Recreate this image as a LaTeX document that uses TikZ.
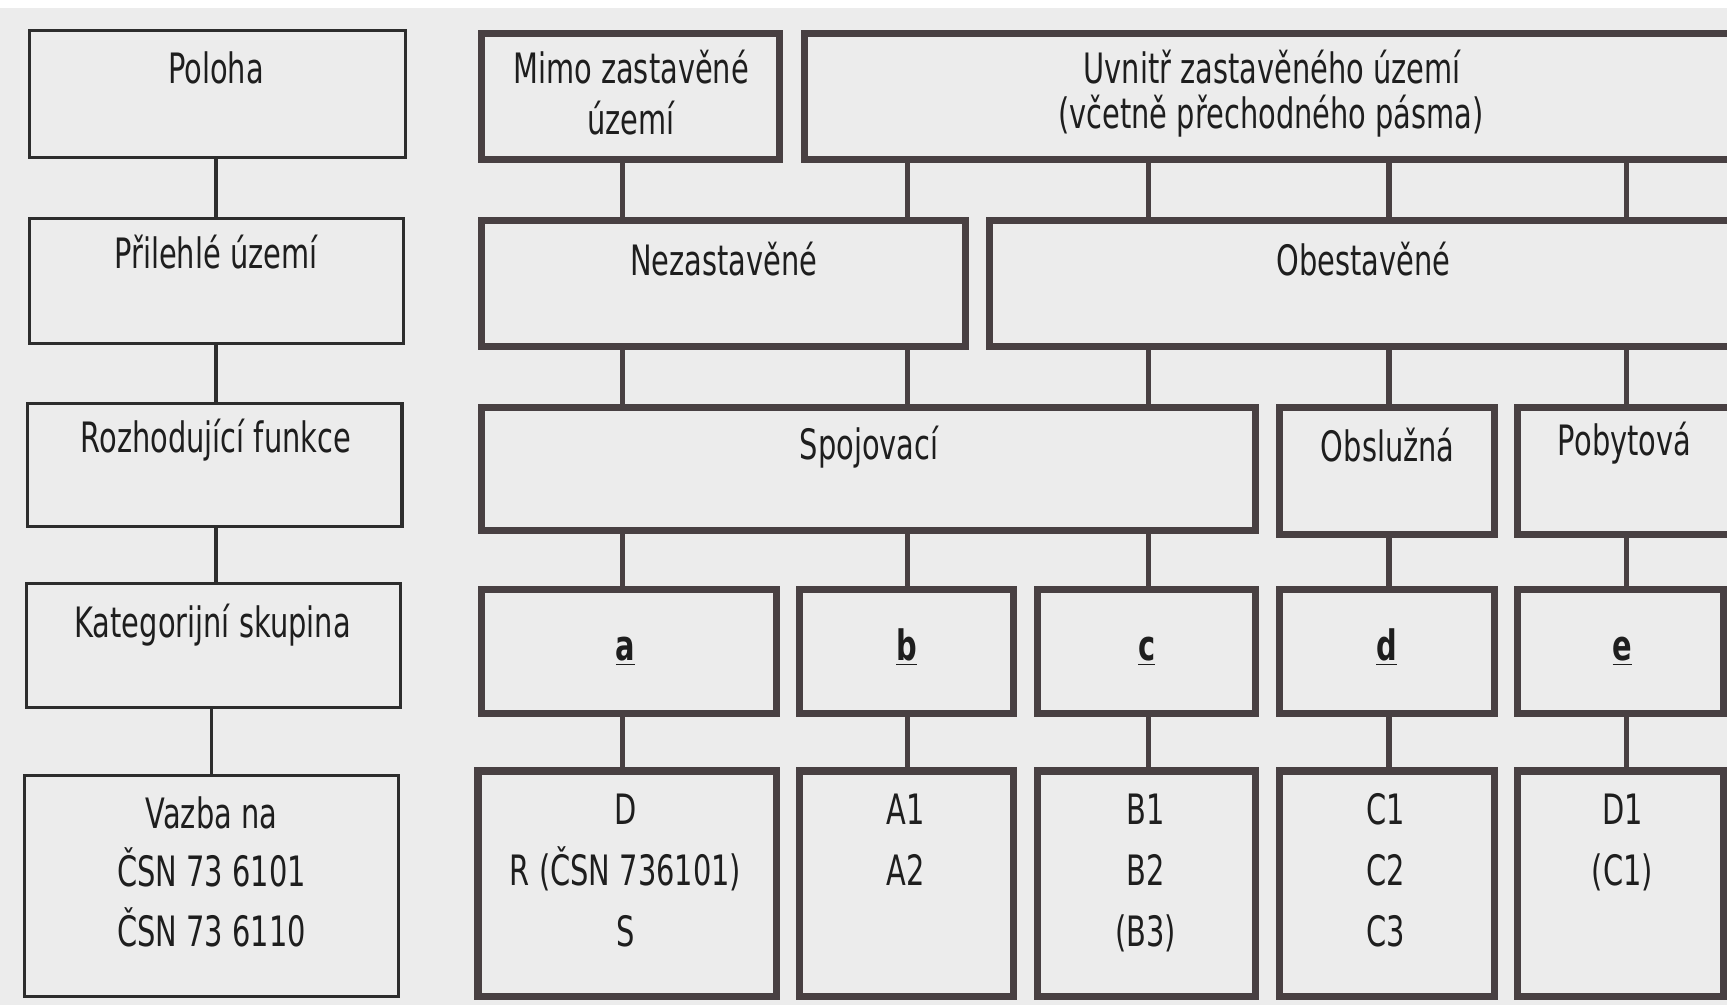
\documentclass[tikz,border=0pt]{standalone}
\usepackage{fontspec}
\setmainfont[FakeStretch=0.69]{DejaVu Sans}
\usetikzlibrary{calc}
\definecolor{bg}{RGB}{236,236,236}
\definecolor{thickc}{RGB}{72,64,66}
\definecolor{thinc}{RGB}{45,45,45}
\definecolor{ink}{RGB}{30,30,30}
\newcommand\bx[6]{\node[#2, minimum width={(#5-#3)*0.5pt}, minimum height={(#6-#4)*0.5pt}] (#1) at ({(#3+#5)/2},{(#4+#6)/2}) {};}
\begin{document}
\begin{tikzpicture}[x=0.5pt,y=-0.5pt,
  thinbox/.style={draw=thinc, line width=1.4pt, rectangle, inner sep=0pt, outer sep=0pt},
  thickbox/.style={draw=thickc, line width=3.2pt, rectangle, inner sep=0pt, outer sep=0pt},
  lbl/.style={font=\fontsize{19}{23}\selectfont, text=ink, inner sep=0pt, anchor=base},
  thinlink/.style={draw=thinc, line width=1.6pt},
  thicklink/.style={draw=thickc, line width=2.4pt},
]
\useasboundingbox (0,0) rectangle (1568,912);
\fill[white] (0,0) rectangle (1568,912);
\fill[bg] (0,7) rectangle (1568,912);
\clip (0,0) rectangle (1568,912);

% column coordinates
\coordinate (cL) at (196,0);
\coordinate (cA) at (565,0);
\coordinate (cB) at (824,0);
\coordinate (cC) at (1043,0);
\coordinate (cD) at (1261,0);
\coordinate (cE) at (1477,0);

% left column
\bx{pol}{thinbox}{27}{28}{368}{143}
\bx{pri}{thinbox}{27}{198}{366}{312}
\bx{roz}{thinbox}{25}{366}{365}{478}
\bx{kat}{thinbox}{24}{530}{364}{642}
\bx{vaz}{thinbox}{22}{704}{362}{905}

% right: row 1
\bx{mimo}{thickbox}{437}{30}{708}{145}
\bx{uvn}{thickbox}{730}{30}{1600}{145}
% row 2
\bx{nez}{thickbox}{437}{200}{877}{315}
\bx{obe}{thickbox}{898}{200}{1600}{315}
% row 3
\bx{spo}{thickbox}{437}{370}{1140}{482}
\bx{obs}{thickbox}{1162}{370}{1357}{485}
\bx{pob}{thickbox}{1378}{370}{1600}{485}
% row 4
\bx{ka}{thickbox}{437}{535}{705}{648}
\bx{kb}{thickbox}{726}{535}{920}{648}
\bx{kc}{thickbox}{942}{535}{1140}{648}
\bx{kd}{thickbox}{1162}{535}{1357}{648}
\bx{ke}{thickbox}{1378}{535}{1565}{648}
% row 5
\bx{ga}{thickbox}{434}{700}{705}{905}
\bx{gb}{thickbox}{726}{700}{920}{905}
\bx{gc}{thickbox}{942}{700}{1140}{905}
\bx{gd}{thickbox}{1162}{700}{1357}{905}
\bx{ge}{thickbox}{1378}{700}{1565}{905}

% left connectors
\draw[thinlink] (pol.south -| cL) -- (pri.north -| cL);
\draw[thinlink] (pri.south -| cL) -- (roz.north -| cL);
\draw[thinlink] (roz.south -| cL) -- (kat.north -| cL);
\draw[thinlink] ($(kat.south -| cL)+(-4,0)$) -- ($(vaz.north -| cL)+(-4,0)$);

% right connectors
\draw[thicklink] (mimo.south -| cA) -- (nez.north -| cA);
\draw[thicklink] (uvn.south -| cB) -- (nez.north -| cB);
\draw[thicklink] (uvn.south -| cC) -- (obe.north -| cC);
\draw[thicklink] (uvn.south -| cD) -- (obe.north -| cD);
\draw[thicklink] (uvn.south -| cE) -- (obe.north -| cE);
\draw[thicklink] (nez.south -| cA) -- (spo.north -| cA);
\draw[thicklink] (nez.south -| cB) -- (spo.north -| cB);
\draw[thicklink] (obe.south -| cC) -- (spo.north -| cC);
\draw[thicklink] (obe.south -| cD) -- (obs.north -| cD);
\draw[thicklink] (obe.south -| cE) -- (pob.north -| cE);
\draw[thicklink] (spo.south -| cA) -- (ka.north -| cA);
\draw[thicklink] (spo.south -| cB) -- (kb.north -| cB);
\draw[thicklink] (spo.south -| cC) -- (kc.north -| cC);
\draw[thicklink] (obs.south -| cD) -- (kd.north -| cD);
\draw[thicklink] (pob.south -| cE) -- (ke.north -| cE);
\draw[thicklink] (ka.south -| cA) -- (ga.north -| cA);
\draw[thicklink] (kb.south -| cB) -- (gb.north -| cB);
\draw[thicklink] (kc.south -| cC) -- (gc.north -| cC);
\draw[thicklink] (kd.south -| cD) -- (gd.north -| cD);
\draw[thicklink] (ke.south -| cE) -- (ge.north -| cE);

% left texts
\node[lbl] (tpol) at (196,76) {Poloha};
\node[lbl] (tpri) at (196,244) {Přilehlé území};
\node[lbl] (troz) at (196,411) {Rozhodující funkce};
\node[lbl] (tkat) at (193,579) {Kategorijní skupina};
\node[lbl] (tvaz1) at (192,752) {Vazba na};
\node[lbl] (tvaz2) at (192,805) {ČSN 73 6101};
\node[lbl] (tvaz3) at (192,859) {ČSN 73 6110};

% right texts
\node[lbl] (tmimo1) at (573,76) {Mimo zastavěné};
\node[lbl] (tmimo2) at (573,122) {území};
\node[lbl] (tuvn1) at (1155,76) {Uvnitř zastavěného území};
\node[lbl] (tuvn2) at (1154,117) {(včetně přechodného pásma)};
\node[lbl] (tnez) at (657,250) {Nezastavěné};
\node[lbl] (tobe) at (1238,250) {Obestavěné};
\node[lbl] (tspo) at (789,417) {Spojovací};
\node[lbl] (tobs) at (1260,419) {Obslužná};
\node[lbl] (tpob) at (1475,414) {Pobytová};

\node[lbl] (ta) at (568,600) {\textbf{\underline{a}}};
\node[lbl] (tb) at (823,600) {\textbf{\underline{b}}};
\node[lbl] (tc) at (1041,600) {\textbf{\underline{c}}};
\node[lbl] (td) at (1259,600) {\textbf{\underline{d}}};
\node[lbl] (te) at (1473,600) {\textbf{\underline{e}}};

\node[lbl] (ga1) at (568,749) {D};
\node[lbl] (ga2) at (568,804) {R (ČSN 736101)};
\node[lbl] (ga3) at (568,859) {S};
\node[lbl] (gb1) at (822,749) {A1};
\node[lbl] (gb2) at (822,804) {A2};
\node[lbl] (gc1) at (1040,749) {B1};
\node[lbl] (gc2) at (1040,804) {B2};
\node[lbl] (gc3) at (1040,859) {(B3)};
\node[lbl] (gd1) at (1258,749) {C1};
\node[lbl] (gd2) at (1258,804) {C2};
\node[lbl] (gd3) at (1258,859) {C3};
\node[lbl] (ge1) at (1473,749) {D1};
\node[lbl] (ge2) at (1473,804) {(C1)};
\end{tikzpicture}
\end{document}
